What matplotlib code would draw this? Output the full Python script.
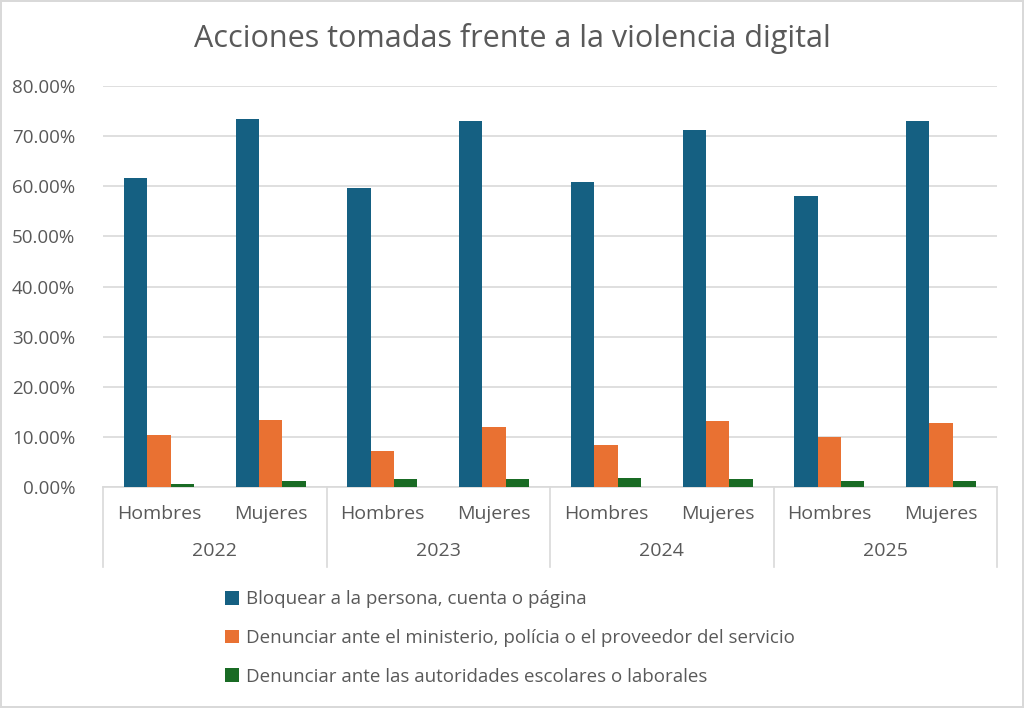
import numpy as np
import matplotlib
matplotlib.use('Agg')
import matplotlib.pyplot as plt
from matplotlib.lines import Line2D

plt.rcParams['font.family'] = ['Open Sans', 'DejaVu Sans']

# data
years = ['2022', '2023', '2024', '2025']
sexes = ['Hombres', 'Mujeres']
series_names = ['Bloquear a la persona, cuenta o página',
                'Denunciar ante el ministerio, polícia o el proveedor del servicio',
                'Denunciar ante las autoridades escolares o laborales']
bloquear = [0.617, 0.7345, 0.597, 0.731, 0.608, 0.712, 0.580, 0.731]
denunciar_ministerio = [0.103, 0.134, 0.071, 0.120, 0.0845, 0.131, 0.100, 0.127]
denunciar_escolares = [0.0067, 0.011, 0.016, 0.016, 0.017, 0.015, 0.011, 0.012]
colors = ['#156082', '#E97132', '#196B24']

text_col = '#595959'
grid_col = '#D9D9D9'

fig = plt.figure(figsize=(10.24, 7.08), dpi=100)
fig.patch.set_edgecolor('#D9D9D9')
fig.patch.set_linewidth(1.5)
ax = fig.add_axes([103/1024, 1-487/708, (997-103)/1024, (487-86)/708])

x = np.arange(len(bloquear))
w = 0.209
bars = []
for i, vals in enumerate([bloquear, denunciar_ministerio, denunciar_escolares]):
    b = ax.bar(x + (i-1)*w, vals, w, color=colors[i], label=series_names[i], zorder=3)
    bars.append(b)

ax.set_xlim(-0.5, len(x)-0.5)
ax.set_ylim(0, 0.8)
ax.set_yticks(np.arange(0, 0.81, 0.1))
ax.set_yticklabels(['%.2f%%' % (v*100) for v in np.arange(0, 0.81, 0.1)])
ax.tick_params(axis='y', length=0, labelsize=13.5, labelcolor=text_col, pad=20)
ax.tick_params(axis='x', length=0, labelbottom=False)
ax.grid(axis='y', color=grid_col, linewidth=1.2, zorder=0)
for s in ['top', 'right', 'left']:
    ax.spines[s].set_visible(False)
ax.spines['bottom'].set_color(grid_col)
ax.spines['bottom'].set_linewidth(1.2)

# two level category axis
trans = ax.get_xaxis_transform()
for i in range(len(x)):
    ax.text(x[i], -0.067, sexes[i % 2], transform=trans, ha='center', va='center',
            fontsize=14, color=text_col)
for j, yr in enumerate(years):
    ax.text(2*j + 0.5, -0.16, yr, transform=trans, ha='center', va='center',
            fontsize=14, color=text_col)
for k in range(len(years)+1):
    ax.add_line(Line2D([2*k - 0.5, 2*k - 0.5], [0, -0.2], transform=trans,
                       color=grid_col, linewidth=1.2, clip_on=False))

fig.text(0.5, 1-38/708, 'Acciones tomadas frente a la violencia digital',
         ha='center', va='center', fontsize=22, color=text_col)

leg = fig.legend(handles=bars, loc='center left', bbox_to_anchor=(208/1024, 1-638/708),
                 frameon=False, fontsize=13.5, labelcolor=text_col, handlelength=0.75,
                 handleheight=0.75, handletextpad=0.4, labelspacing=1.1)

fig.savefig('out.png', dpi=100)
